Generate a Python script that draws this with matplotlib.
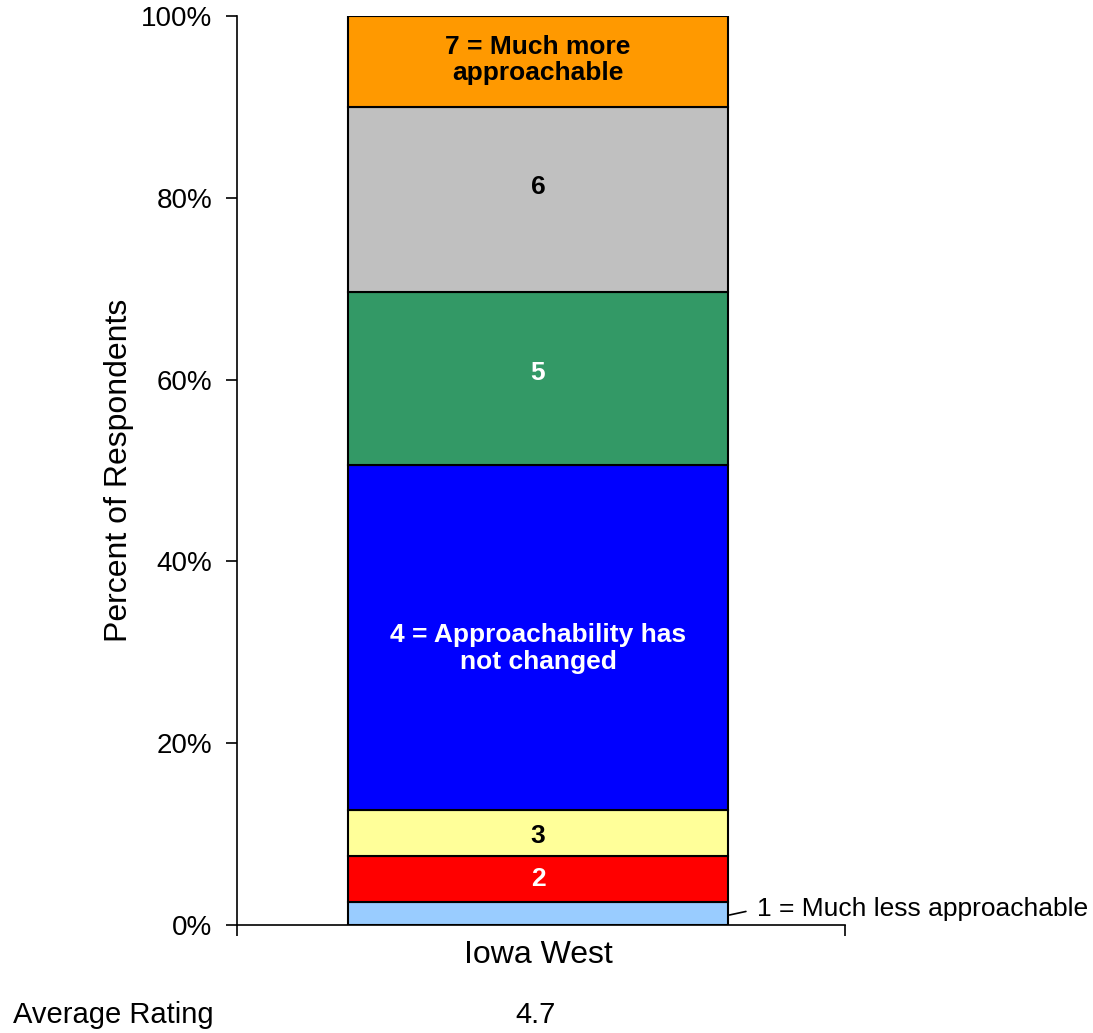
import matplotlib.pyplot as plt

plt.rcParams['font.family'] = ['Liberation Sans', 'DejaVu Sans']

# Percent of respondents per rating (bottom to top)
ratings = ['1', '2', '3', '4', '5', '6', '7']
percents = [2.5, 5.1, 5.1, 37.9, 19.0, 20.4, 10.0]
seg_labels = ['', '2', '3', '4 = Approachability has\nnot changed', '5', '6',
              '7 = Much more\napproachable']
colors = ['#99ccff', '#ff0000', '#ffff99', '#0000ff', '#339966', '#c0c0c0', '#ff9900']
text_colors = ['black', 'white', 'black', 'white', 'white', 'black', 'black']
category = 'Iowa West'
average = 4.7

# small vertical nudges (points) so labels sit where the original put them
label_shift = [0, 0, -2, -8, 4, 9, 1]

fig = plt.figure(figsize=(10.93, 10.33), dpi=100)
ax = fig.add_axes([237 / 1093, 108 / 1033, 608 / 1093, 909 / 1033])

xc = -0.008
bottom = 0
for val, lab, col, tc, dy in zip(percents, seg_labels, colors, text_colors, label_shift):
    ax.bar(xc, val, width=1.0, bottom=bottom, color=col, edgecolor='black', linewidth=1.5)
    if lab:
        ax.annotate(lab, xy=(xc, bottom + val / 2), xytext=(0, dy),
                    textcoords='offset points', ha='center', va='center', color=tc,
                    fontsize=19, fontweight='bold', linespacing=1.15)
    bottom += val

# label for the thin bottom segment
ax.annotate('1 = Much less approachable', xy=(xc + 0.504, 1.1),
            xytext=(0.568, 1.75), fontsize=19, va='center', ha='left',
            arrowprops=dict(arrowstyle='-', color='black', lw=1.2, shrinkA=6,
                            shrinkB=0, relpos=(0, 0.5)),
            annotation_clip=False)

ax.set_xlim(-0.8, 0.8)
ax.set_ylim(0, 100)
ax.set_yticks(range(0, 101, 20))
ax.set_yticklabels([f'{v}%' for v in range(0, 101, 20)], fontsize=20)
ax.set_xticks([-0.8, 0.8])
ax.set_xticklabels([])
ax.text(xc, -3.3, category, ha='center', va='center', fontsize=23)
ax.tick_params(axis='y', direction='out', length=8, width=1.2, pad=10)
ax.tick_params(axis='x', direction='out', length=8, width=1.2)
ax.spines['top'].set_visible(False)
ax.spines['right'].set_visible(False)
for s in ['left', 'bottom']:
    ax.spines[s].set_linewidth(1.2)
ax.set_ylabel('Percent of Respondents', fontsize=23, labelpad=5)

fig.text(13 / 1093, 1 - 1015 / 1033, 'Average Rating', fontsize=21, va='center', ha='left')
fig.text(536 / 1093, 1 - 1015 / 1033, f'{average}', fontsize=21, va='center', ha='center')

fig.savefig('out.png', dpi=100)
